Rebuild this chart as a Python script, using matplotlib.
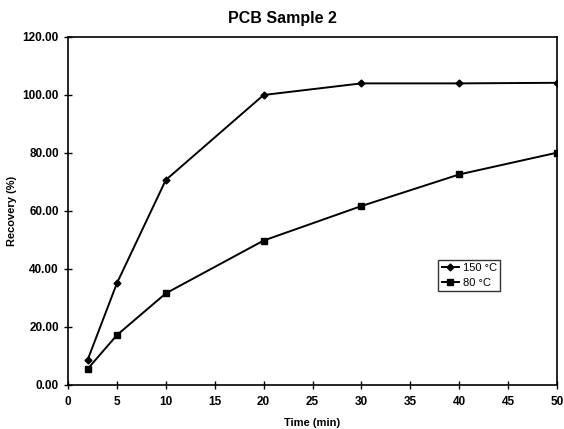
import matplotlib.pyplot as plt
import numpy as np

plt.rcParams['font.family'] = ['Liberation Sans', 'DejaVu Sans']

time_min = [2, 5, 10, 20, 30, 40, 50]
rec_150 = [8.6, 35.1, 70.7, 100.0, 104.0, 104.0, 104.2]
rec_80 = [5.5, 17.2, 31.6, 49.8, 61.7, 72.6, 80.1]

fig = plt.figure(figsize=(5.64, 4.29), dpi=100)
ax = fig.add_axes([0.1206, 0.1026, 0.867, 0.8112])

ax.plot(time_min, rec_150, color="black", lw=1.4, marker="D", ms=3.5, label="150 °C")
ax.plot(time_min, rec_80, color="black", lw=1.4, marker="s", ms=4.5, label="80 °C")

ax.set_xlim(0, 50)
ax.set_ylim(0, 120)
ax.set_xticks(np.arange(0, 51, 5))
yticks = np.arange(0, 121, 20)
ax.set_yticks(yticks, labels=[f"{v:.2f}" for v in yticks])
ax.tick_params(direction="inout", length=6, width=1, labelsize=8.5)
ax.tick_params(axis="x", pad=5)
for lab in ax.get_xticklabels() + ax.get_yticklabels():
    lab.set_fontweight("bold")

for s in ax.spines.values():
    s.set_linewidth(1.2)

fig.suptitle("PCB Sample 2", fontsize=11.5, fontweight="bold", y=0.975)
ax.set_xlabel("Time (min)", fontsize=8, fontweight="bold", labelpad=7)
ax.set_ylabel("Recovery (%)", fontsize=8, fontweight="bold", labelpad=4)

ax.legend(loc="lower left", bbox_to_anchor=(0.757, 0.27), fontsize=8, frameon=True,
          fancybox=False, edgecolor="black", handlelength=1.6, borderpad=0.3,
          labelspacing=0.4, handletextpad=0.3, borderaxespad=0)

plt.savefig("out.png", dpi=100)
